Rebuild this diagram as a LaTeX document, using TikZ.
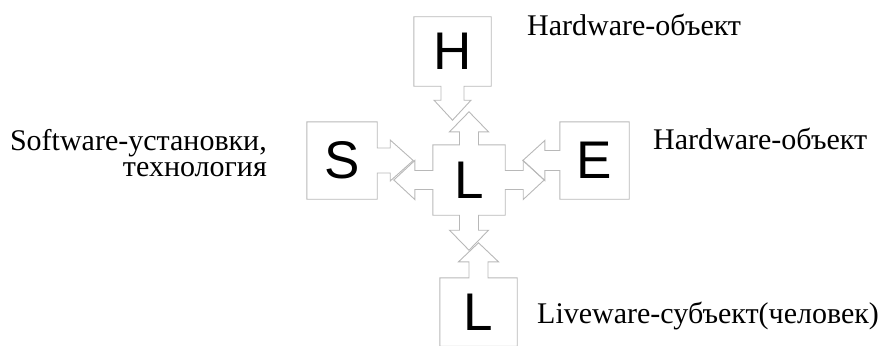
\documentclass[tikz,border=0pt]{standalone}
\usepackage{fontspec}
\setmainfont{Liberation Serif}
\setsansfont{Liberation Sans}
\usepackage{tikz}
\usetikzlibrary{calc}

\begin{document}
\begin{tikzpicture}[
  x=1pt,y=-1pt,
  box/.style={minimum width=#1,inner sep=0pt,font=\sffamily\fontsize{53}{53}\selectfont},
  outline/.style={draw=black!28,line width=0.9pt,line join=miter},
  caption/.style={font=\fontsize{30}{26}\selectfont,inner sep=0pt}
]
\path[use as bounding box,clip] (0,0) rectangle (885,345);
\node[box=77pt,minimum height=69pt] (hbox) at (452.5,51.5) {H};
\node[box=70pt,minimum height=77pt] (sbox) at (342,160.5) {S};
\node[box=69pt,minimum height=77pt] (ebox) at (594.5,160.5) {E};
\node[box=77pt,minimum height=68pt] (lbox) at (478.5,312) {L};
\node[box=72pt,minimum height=70pt] (core) at (469,180) {L};
\node[caption,anchor=base west] (htext) at (527,36) {Hardware-объект};
\node[caption,anchor=base west] (etext) at (653,149) {Hardware-объект};
\node[caption,anchor=base west] (ltext) at (537,323) {Liveware-субъект(человек)};
\node[caption,anchor=base east,align=right] (stext) at (267,176) {Software-установки,\\технология};
% outer boxes with their arrows
\draw[outline] (hbox.south west) |- (hbox.north east) |- ($(hbox.south)+(11.5,0)$)
  -- ++(0,14) -- ++(7,0) -- ++(-18.5,20) -- ++(-18.5,-20) -- ++(7,0) -- ++(0,-14) -- cycle;
\draw[outline] (sbox.south east) -| (sbox.north west) -| ($(sbox.east)+(0,-12.5)$)
  -- ++(13,0) -- ++(0,-8) -- ++(23,20.5) -- ++(-23,20.5) -- ++(0,-8) -- ++(-13,0) -- cycle;
\draw[outline] (ebox.north west) -| (ebox.south east) -| ($(ebox.west)+(0,10)$)
  -- ++(-15,0) -- ++(0,10) -- ++(-22,-20) -- ++(22,-20) -- ++(0,10) -- ++(15,0) -- cycle;
\draw[outline] (lbox.south west) |- ($(lbox.north)+(-9.5,0)$)
  -- ++(0,-16) -- ++(-10.5,0) -- ++(20,-19) -- ++(20,19) -- ++(-10.5,0) -- ++(0,16) -| (lbox.south east) -- cycle;
% centre with four arrows
\draw[outline] (core.north west) -- ($(core.north)+(-9.5,0)$)
  -- ++(0,-13) -- ++(-10,0) -- ++(19.5,-20) -- ++(19.5,20) -- ++(-10,0) -- ++(0,13)
  -- (core.north east) -- ($(core.east)+(0,-9.5)$)
  -- ++(18,0) -- ++(0,-10) -- ++(21,19.5) -- ++(-21,19.5) -- ++(0,-10) -- ++(-18,0)
  -- (core.south east) -- ($(core.south)+(9.5,0)$)
  -- ++(0,15) -- ++(10,0) -- ++(-19.5,20) -- ++(-19.5,-20) -- ++(10,0) -- ++(0,-15)
  -- (core.south west) -- ($(core.west)+(0,9.5)$)
  -- ++(-18,0) -- ++(0,10) -- ++(-21,-19.5) -- ++(21,-19.5) -- ++(0,10) -- ++(18,0) -- cycle;
\end{tikzpicture}
\end{document}
